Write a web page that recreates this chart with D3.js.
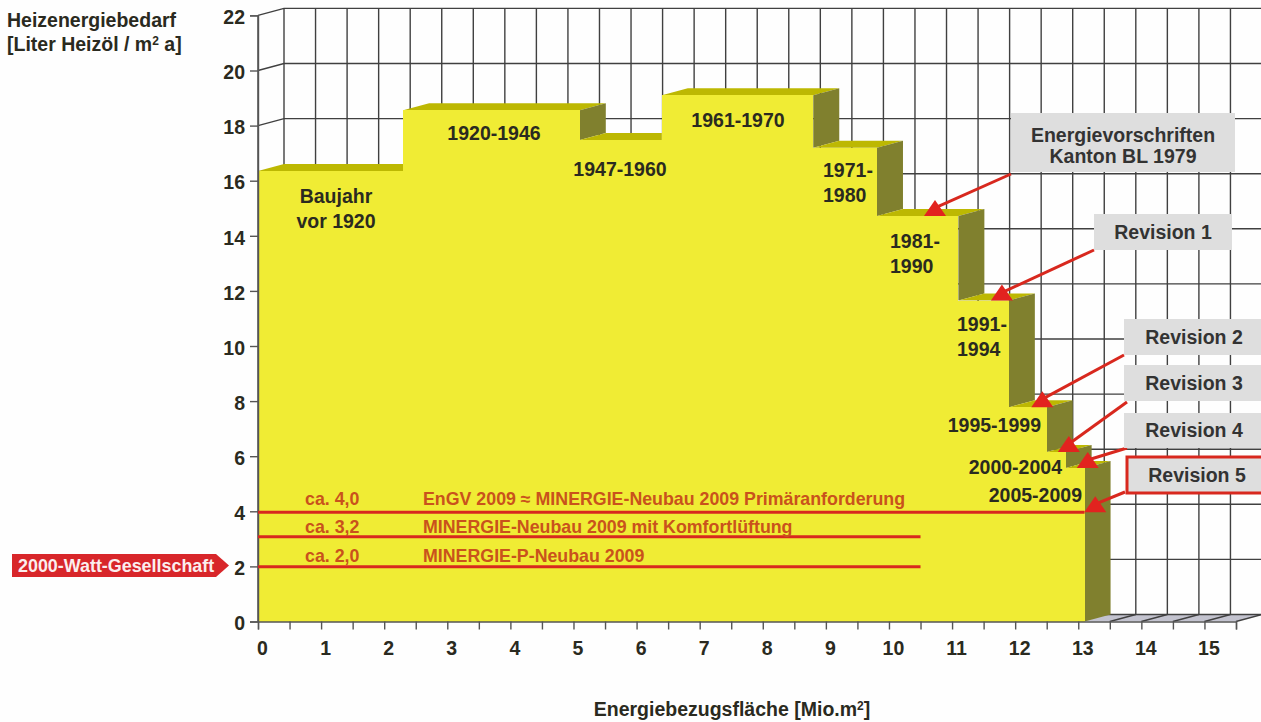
<!DOCTYPE html>
<html>
<head>
<meta charset="utf-8">
<script src="https://d3js.org/d3.v7.min.js"></script>
<style>
	html, body { margin: 0; padding: 0; background: #fefefe; overflow: hidden; }
	text { font-family: "Liberation Sans", Arial, sans-serif; font-weight: bold; fill: #2a2a20; }
</style>
</head>
<body>
<script>
// building periods, from the left edge of the staircase
var periods = ["Baujahr vor 1920", "1920-1946", "1947-1960", "1961-1970", "1971-1980", "1981-1990", "1991-1994", "1995-1999", "2000-2004", "2005-2009"];
var stepEnds = [2.3, 5.1, 6.4, 8.8, 9.81, 11.1, 11.9, 12.5, 12.8, 13.1];	// Mio. m2
var stepValues = [16.35, 18.56, 17.48, 19.1, 17.2, 14.72, 11.65, 7.78, 6.15, 5.57];	// Liter / m2 a

var xTicks = d3.range(0, 15.5 + 0.5, 0.5);
var yTicks = d3.range(0, 22 + 2, 2);

var targetLines = ["ca. 4,0", "ca. 3,2", "ca. 2,0"];
var targetNames = ["EnGV 2009 \u2248 MINERGIE-Neubau 2009 Prim\u00e4ranforderung", "MINERGIE-Neubau 2009 mit Komfortl\u00fcftung", "MINERGIE-P-Neubau 2009"];
var targetValues = [3.97, 3.08, 1.99];
var targetEnds = [13.1, 10.5, 10.5];

var revisionNames = ["Energievorschriften|Kanton BL 1979", "Revision 1", "Revision 2", "Revision 3", "Revision 4", "Revision 5"];
var revisionX = [10.73, 11.79, 12.43, 12.85, 13.15, 13.27];
var revisionY = [14.72, 11.65, 7.78, 6.15, 5.57, 3.97];

var width = 1261, height = 722;
var depthX = 26, depthY = 7;

var x = d3.scaleLinear().domain([0, 15.5]).range([258, 1236]);
var y = d3.scaleLinear().domain([0, 22]).range([621.5, 15.4]);

var svg = d3.select("body").append("svg")
	.attr("width", width)
	.attr("height", height);

function poly(points, fill) {
	return svg.append("polygon")
		.attr("points", points.map(function(p) { return p.join(","); }).join(" "))
		.style("fill", fill);
}

// floor
var floorY = y(0);
poly([[x(0), floorY], [x(15.5), floorY], [x(15.5) + depthX, floorY - depthY], [x(0) + depthX, floorY - depthY]], "#c3c3cf");

// back wall + side wall grid
var grid = svg.append("g").style("stroke", "#404040").style("stroke-width", 1.4).style("fill", "none");
yTicks.forEach(function(t) {
	grid.append("path").attr("d", d3.line()([[x(0), y(t)], [x(0) + depthX, y(t) - depthY], [width, y(t) - depthY]]));
});
xTicks.forEach(function(t) {
	grid.append("line")
		.attr("x1", x(t) + depthX).attr("x2", x(t) + depthX)
		.attr("y1", y(22) - depthY).attr("y2", floorY - depthY);
	grid.append("line")
		.attr("x1", x(t)).attr("x2", x(t) + depthX)
		.attr("y1", floorY).attr("y2", floorY - depthY);
});
grid.append("line").attr("x1", x(0)).attr("x2", x(0)).attr("y1", y(22)).attr("y2", floorY);

// staircase
var front = "#f0ec34", top_ = "#bdb802", side = "#80802e";
stepValues.forEach(function(v, i) {
	var x0 = x(i == 0 ? 0 : stepEnds[i - 1]), x1 = x(stepEnds[i]);
	var yTop = y(v);
	var next = i + 1 < stepValues.length ? stepValues[i + 1] : 0;
	var rightBack = next > v ? x1 : x1 + depthX;
	poly([[x0, yTop], [x1, yTop], [rightBack, yTop - depthY], [x0 + depthX, yTop - depthY]], top_);
	if (next < v) {
		poly([[x1, yTop], [x1 + depthX, yTop - depthY], [x1 + depthX, y(next) - depthY], [x1, y(next)]], side);
	}
});
stepValues.forEach(function(v, i) {
	var x0 = x(i == 0 ? 0 : stepEnds[i - 1]), x1 = x(stepEnds[i]);
	svg.append("rect")
		.attr("x", x0).attr("y", y(v))
		.attr("width", x1 - x0).attr("height", floorY - y(v))
		.attr("shape-rendering", "crispEdges")
		.style("fill", front);
});

// axes
var xAxis = d3.axisBottom(x).tickValues(xTicks).tickSize(8).tickPadding(12)
	.tickFormat(function(d) { return d % 1 == 0 ? d : ""; });
var yAxis = d3.axisLeft(y).tickValues(yTicks).tickSize(8).tickPadding(5);

var gx = svg.append("g").attr("transform", "translate(0," + floorY + ")").call(xAxis);
var gy = svg.append("g").attr("transform", "translate(" + x(0) + ",0)").call(yAxis);
[gx, gy].forEach(function(g) {
	g.selectAll("line, path").style("stroke", "#555").style("stroke-width", 1.4);
	g.selectAll("text").style("font-size", "19.5px").style("font-family", '"Liberation Sans", Arial, sans-serif');
});
gx.selectAll("text").attr("dx", 4);
gy.selectAll("text").attr("dy", "0.42em");

// period labels on the steps
var labelSpots = [
	{ lines: ["Baujahr", "vor 1920"], x: 336, y: 203, a: "middle", lh: 25 },
	{ lines: ["1920-1946"], x: 494, y: 140, a: "middle" },
	{ lines: ["1947-1960"], x: 620, y: 176, a: "middle" },
	{ lines: ["1961-1970"], x: 738, y: 127, a: "middle" },
	{ lines: ["1971-", "1980"], x: 823, y: 177, a: "start", lh: 25 },
	{ lines: ["1981-", "1990"], x: 890, y: 248, a: "start", lh: 25 },
	{ lines: ["1991-", "1994"], x: 957, y: 331, a: "start", lh: 25 },
	{ lines: ["1995-1999"], x: 1041, y: 432, a: "end" },
	{ lines: ["2000-2004"], x: 1062, y: 474, a: "end" },
	{ lines: ["2005-2009"], x: 1082, y: 502, a: "end" }
];
labelSpots.forEach(function(s) {
	s.lines.forEach(function(l, i) {
		svg.append("text").attr("x", s.x).attr("y", s.y + i * (s.lh || 0))
			.attr("text-anchor", s.a).style("font-size", "19.5px").text(l);
	});
});

// target lines
var red = "#d8281e";
targetValues.forEach(function(v, i) {
	svg.append("line")
		.attr("x1", x(0)).attr("x2", x(targetEnds[i]))
		.attr("y1", y(v)).attr("y2", y(v))
		.style("stroke", red).style("stroke-width", 3);
	var baseline = y(v) - (i == 1 ? 4 : i == 0 ? 7 : 5);
	svg.append("text").attr("x", 305).attr("y", baseline)
		.style("font-size", "17.8px").style("fill", "#c9521c").text(targetLines[i]);
	svg.append("text").attr("x", 423).attr("y", baseline)
		.style("font-size", "17.8px").style("fill", "#c9521c").text(targetNames[i]);
});

// revision callouts
var boxes = [
	{ x: 1011, y: 113, w: 224, h: 59, from: [1011, 174] },
	{ x: 1094, y: 214, w: 138, h: 36, from: [1094, 250] },
	{ x: 1124, y: 319, w: 140, h: 36, from: [1124, 355] },
	{ x: 1124, y: 365, w: 140, h: 36, from: [1127, 402] },
	{ x: 1124, y: 413, w: 140, h: 35, from: [1127, 448] },
	{ x: 1127, y: 457, w: 140, h: 36, from: [1125, 492] }
];
revisionNames.forEach(function(name, i) {
	var b = boxes[i];
	var tipX = x(revisionX[i]), baseY = y(revisionY[i]);
	svg.append("line")
		.attr("x1", b.from[0]).attr("y1", b.from[1])
		.attr("x2", tipX).attr("y2", baseY - 8)
		.style("stroke", red).style("stroke-width", 3);
	poly([[tipX, baseY - 16], [tipX - 11, baseY], [tipX + 11, baseY]], "#e2231f");
	var r = svg.append("rect")
		.attr("x", b.x).attr("y", b.y).attr("width", b.w).attr("height", b.h)
		.style("fill", "#dedede");
	if (i == 5) r.style("stroke", red).style("stroke-width", 3);
	var lines = name.split("|");
	var cx = i < 2 ? b.x + b.w / 2 : b.x + 70;
	lines.forEach(function(l, j) {
		svg.append("text").attr("x", cx)
			.attr("y", lines.length > 1 ? b.y + 29 + j * 21 : b.y + b.h / 2 + 6.5)
			.attr("text-anchor", "middle")
			.style("font-size", "19.5px").style("fill", "#333").text(l);
	});
});

// 2000 watt marker
poly([[12, 554], [216, 554], [229, 565.5], [216, 577], [12, 577]], "#d8262a");
svg.append("text").attr("x", 18).attr("y", 572)
	.style("font-size", "17.9px").style("fill", "#fbeeee").text("2000-Watt-Gesellschaft");

// axis titles
svg.append("text").attr("x", 7).attr("y", 27).style("font-size", "19.5px").text("Heizenergiebedarf");
var yt = svg.append("text").attr("x", 7).attr("y", 51).style("font-size", "19.5px");
yt.append("tspan").text("[Liter Heiz\u00f6l / m");
yt.append("tspan").attr("dy", -6).style("font-size", "12px").text("2");
yt.append("tspan").attr("dy", 6).text(" a]");

var xt = svg.append("text").attr("x", 732).attr("y", 716).attr("text-anchor", "middle").style("font-size", "19.5px");
xt.append("tspan").text("Energiebezugsfl\u00e4che [Mio.m");
xt.append("tspan").attr("dy", -6).style("font-size", "12px").text("2");
xt.append("tspan").attr("dy", 6).text("]");
</script>
</body>
</html>
